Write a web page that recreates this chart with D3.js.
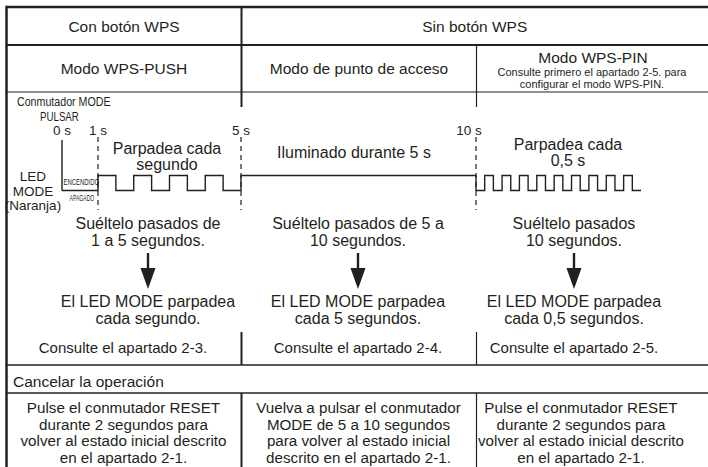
<!DOCTYPE html>
<html><head><meta charset="utf-8">
<script src="https://cdn.jsdelivr.net/npm/d3@7"></script>
<style>
body{margin:0;background:#fff}
svg{display:block}
text{font-family:Arial,"Liberation Sans",Helvetica,sans-serif;fill:#231f20}
</style>
</head><body><svg id="c" width="708" height="467"></svg>
<script>
// ---------- data ----------
const groupHeaders = ["Con botón WPS", "Sin botón WPS"];
const modeHeaders = ["Modo WPS-PUSH", "Modo de punto de acceso", "Modo WPS-PIN"];
const pinNote = ["Consulte primero el apartado 2-5. para", "configurar el modo WPS-PIN."];
const switchLabel = ["Conmutador MODE", "PULSAR"];
const ledLabel = ["LED", "MODE", "(Naranja)"];
const levelLabels = ["ENCENDIDO", "APAGADO"];
const tickTimes = [0, 1, 5, 10];
const tickLabels = ["0 s", "1 s", "5 s", "10 s"];
const dashedTimes = [1, 5, 10];
const ledOn = [[1,1.5],[2,2.5],[3,3.5],[4,4.5],[5,10],
  [10.5,11],[11.5,12],[12.5,13],[13.5,14],[14.5,15],[15.5,16],[16.5,17],[17.5,18],[18.5,19]];
const signalEnd = 19.5;
const phaseLabels = [["Parpadea cada", "segundo"], ["Iluminado durante 5 s"], ["Parpadea cada", "0,5 s"]];
const releaseText = [["Suéltelo pasados de", "1 a 5 segundos."], ["Suéltelo pasados de 5 a", "10 segundos."], ["Suéltelo pasados", "10 segundos."]];
const resultText = [["El LED MODE parpadea", "cada segundo."], ["El LED MODE parpadea", "cada 5 segundos."], ["El LED MODE parpadea", "cada 0,5 segundos."]];
const refText = ["Consulte el apartado 2-3.", "Consulte el apartado 2-4.", "Consulte el apartado 2-5."];
const cancelTitle = "Cancelar la operación";
const cancelText = [
  ["Pulse el conmutador RESET", "durante 2 segundos para", "volver al estado inicial descrito", "en el apartado 2-1."],
  ["Vuelva a pulsar el conmutador", "MODE de 5 a 10 segundos", "para volver al estado inicial", "descrito en el apartado 2-1."],
  ["Pulse el conmutador RESET", "durante 2 segundos para", "volver al estado inicial descrito", "en el apartado 2-1."]
];

// ---------- layout ----------
const svg = d3.select("#c");
const ink = "#231f20";
const W = 708, H = 467;
const L = 6.5, TOP = 7, C1 = 241.5, C2 = 476.5;
const x = d3.scaleLinear().domain([0, 1, 5, 10, signalEnd]).range([62, 98, 241, 476, 641]);
const lvl = d3.scaleLinear().domain([0, 1]).range([190.5, 175.5]);

function line(x1, y1, x2, y2, w) {
  svg.append("line").attr("x1", x1).attr("y1", y1).attr("x2", x2).attr("y2", y2)
    .attr("stroke", ink).attr("stroke-width", w || 1);
}
function texts(lines, cx, y0, dy, size, anchor) {
  return lines.map((t, i) => svg.append("text").attr("x", cx).attr("y", y0 + i * dy)
      .attr("font-size", size).attr("text-anchor", anchor || "middle").text(t));
}
function narrow(t, x0, y, size, sx) {
  svg.append("text").attr("transform", `translate(${x0},${y}) scale(${sx},1)`)
    .attr("font-size", size).text(t);
}

// grid lines
line(L, TOP, W, TOP, 2.5);
line(L, 45, W, 45, 2.2);
line(L, 92, W, 92, 1);
line(L, TOP - 1.2, L, H, 2.5);
line(C1, TOP, C1, 107, 2);
line(C2, 45, C2, 107, 1.2);
line(C1, 332, C1, 365, 2);
line(C2, 332, C2, 365, 1.2);
line(L, 365, W, 365, 1.5);
line(L, 393, W, 393, 1.5);
line(C1, 393, C1, H, 2);
line(C2, 393, C2, H, 1.2);

// headers
texts([groupHeaders[0]], (L + C1) / 2, 32, 0, 15.5);
texts([groupHeaders[1]], (C1 + W) / 2, 32, 0, 15.5);
texts([modeHeaders[0]], (L + C1) / 2, 74, 0, 15.5);
texts([modeHeaders[1]], (C1 + C2) / 2, 74, 0, 15.5);
texts([modeHeaders[2]], 593, 63, 0, 15.5);
texts(pinNote, 592, 76, 11.5, 11);

// switch + LED labels (condensed)
narrow(switchLabel[0], 17, 106, 13.5, 0.79);
narrow(switchLabel[1], 40, 120.5, 13.5, 0.72);
texts(ledLabel, 33, 181, 14.5, 13.5);
narrow(levelLabels[0], 63.5, 185, 8.5, 0.7);
narrow(levelLabels[1], 69.5, 201, 8.5, 0.6);

// time ticks
tickTimes.forEach((t, i) => texts([tickLabels[i]], x(t) + (i === 3 ? -7 : 0), 135, 0, 13.5));
dashedTimes.forEach(t => {
  svg.append("line").attr("x1", x(t)).attr("x2", x(t)).attr("y1", 137).attr("y2", 210)
    .attr("stroke", ink).attr("stroke-width", 1.2).attr("stroke-dasharray", "5,4");
});

// PULSAR marker
line(x(0), 140, x(0), lvl(0), 1.4);

// LED waveform
const pts = [[0, 0]];
ledOn.forEach(([a, b]) => { pts.push([a, 0], [a, 1], [b, 1], [b, 0]); });
pts.push([signalEnd, 0]);
svg.append("path").attr("d", d3.line().x(d => x(d[0])).y(d => lvl(d[1]))(pts))
  .attr("fill", "none").attr("stroke", ink).attr("stroke-width", 1.4);

// phase labels
texts(phaseLabels[0], 167, 154, 15.5, 16);
texts(phaseLabels[1], 354, 158, 0, 16);
texts(phaseLabels[2], 568, 150, 15.5, 16);

// lower part
const upperCx = [148, 358, 574];
const refCx = [123, 358, 574];
releaseText.forEach((ls, i) => texts(ls, upperCx[i], 229, 17, 16));
upperCx.forEach(cx => {
  svg.append("rect").attr("x", cx - 1.2).attr("y", 253).attr("width", 2.4).attr("height", 17).attr("fill", ink);
  svg.append("path").attr("d", `M${cx - 7.5},268 L${cx + 7.5},268 L${cx},289 Z`).attr("fill", ink);
});
resultText.forEach((ls, i) => texts(ls, upperCx[i], 307, 16.5, 16));
refText.forEach((t, i) => texts([t], refCx[i], 353, 0, 15));

texts([cancelTitle], 13, 387, 0, 15.5, "start");
const botCx = [123.5, 358.5, 581];
cancelText.forEach((ls, i) => texts(ls, botCx[i], 413, 16.6, 15.2));
</script>
</body></html>
